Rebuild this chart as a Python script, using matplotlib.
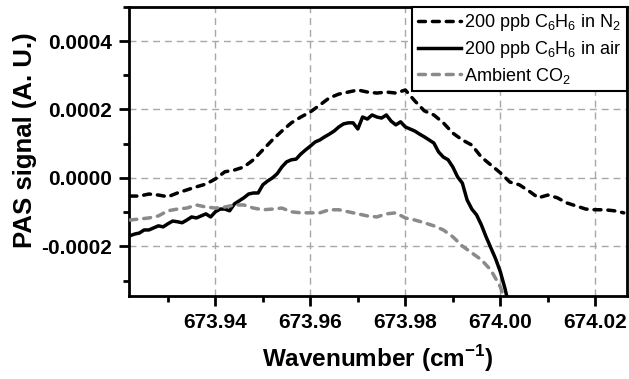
import numpy as np
import matplotlib
matplotlib.use('Agg')
import matplotlib.pyplot as plt
from matplotlib.ticker import MultipleLocator, FormatStrFormatter

plt.rcParams['font.family'] = ['Liberation Sans', 'DejaVu Sans']
plt.rcParams['mathtext.fontset'] = 'custom'
plt.rcParams['mathtext.rm'] = 'Liberation Sans'
plt.rcParams['mathtext.bf'] = 'Liberation Sans:bold'

# ---- data (signal in units of 1e-4 A.U.) ----
x0 = 673.922

# 200 ppb C6H6 in N2, step 0.002 cm-1
n2_signal = [-0.53, -0.53, -0.47, -0.50, -0.55, -0.44, -0.35, -0.26, -0.18, -0.03,
             0.18, 0.23, 0.32, 0.53, 0.82, 1.11, 1.37, 1.61, 1.78, 1.93,
             2.13, 2.34, 2.45, 2.51, 2.57, 2.51, 2.48, 2.51, 2.48, 2.57,
             2.25, 1.96, 1.84, 1.61, 1.31, 1.11, 0.96, 0.61, 0.38, 0.15,
             -0.12, -0.20, -0.38, -0.58, -0.50, -0.58, -0.73, -0.82, -0.91, -0.93,
             -0.93, -0.96, -1.02]

# 200 ppb C6H6 in air, step 0.001 cm-1
air_signal = [-1.69, -1.64, -1.61, -1.52, -1.52, -1.46, -1.40, -1.43, -1.34, -1.26,
              -1.28, -1.31, -1.23, -1.14, -1.17, -1.11, -1.05, -1.14, -0.99, -0.91,
              -0.91, -0.96, -0.76, -0.67, -0.58, -0.47, -0.44, -0.44, -0.20, -0.09,
              0.00, 0.12, 0.32, 0.47, 0.53, 0.55, 0.70, 0.82, 0.93, 1.05,
              1.11, 1.20, 1.28, 1.37, 1.49, 1.58, 1.61, 1.61, 1.43, 1.78,
              1.72, 1.84, 1.78, 1.75, 1.84, 1.66, 1.55, 1.64, 1.49, 1.43,
              1.37, 1.28, 1.20, 1.11, 1.02, 0.76, 0.61, 0.53, 0.32, 0.03,
              -0.15, -0.64, -0.91, -1.08, -1.37, -1.72, -2.04, -2.36, -2.74, -3.24,
              -3.85]

# ambient CO2, step 0.002 cm-1
co2_signal = [-1.23, -1.20, -1.17, -1.11, -0.96, -0.91, -0.88, -0.79, -0.85, -0.88,
              -0.85, -0.79, -0.79, -0.88, -0.93, -0.91, -0.88, -0.99, -1.02, -1.02,
              -1.02, -0.93, -0.93, -0.99, -1.05, -1.11, -1.14, -1.05, -1.02, -1.17,
              -1.23, -1.31, -1.40, -1.52, -1.72, -1.99, -2.19, -2.39, -2.69, -3.18,
              -4.00]

n2_x = x0 + 0.002 * np.arange(len(n2_signal))
air_x = x0 + 0.001 * np.arange(len(air_signal))
co2_x = x0 + 0.002 * np.arange(len(co2_signal))

xticks = [673.94, 673.96, 673.98, 674.00, 674.02]
yticks = [-0.0002, 0.0, 0.0002, 0.0004]

fig = plt.figure(figsize=(6.29, 3.79), dpi=100)
ax = fig.add_axes([0.205, 0.219, 0.792, 0.763])

dash = (0, (2.0, 2.0))
ax.plot(n2_x, np.array(n2_signal) * 1e-4, color='black', lw=2.5, ls=dash,
        dash_capstyle='round', label=r'200 ppb C$_6$H$_6$ in N$_2$', zorder=3)
ax.plot(air_x, np.array(air_signal) * 1e-4, color='black', lw=2.5,
        label=r'200 ppb C$_6$H$_6$ in air', zorder=3)
ax.plot(co2_x, np.array(co2_signal) * 1e-4, color='#8a8a8a', lw=2.5, ls=dash,
        dash_capstyle='round', label=r'Ambient CO$_2$', zorder=3)

ax.set_xlim(673.9218, 674.0267)
ax.set_ylim(-0.000345, 0.0005)
ax.set_xticks(xticks)
ax.set_yticks(yticks)
ax.xaxis.set_minor_locator(MultipleLocator(0.01))
ax.yaxis.set_minor_locator(MultipleLocator(0.0001))
ax.xaxis.set_major_formatter(FormatStrFormatter('%.2f'))
ax.yaxis.set_major_formatter(FormatStrFormatter('%.4f'))

ax.grid(True, which='major', color='#a8a8a8', ls=(0, (5, 3.5)), lw=1.0)
ax.set_axisbelow(True)

for s in ax.spines.values():
    s.set_linewidth(2.0)
ax.tick_params(which='major', direction='out', length=7, width=2, labelsize=15, pad=5)
ax.tick_params(which='minor', direction='out', length=4, width=2)
for lab in ax.get_xticklabels() + ax.get_yticklabels():
    lab.set_fontweight('bold')

ax.set_xlabel(r'Wavenumber (cm$^{\mathbf{-1}}$)', fontsize=17.5, fontweight='bold', labelpad=8)
ax.set_ylabel('PAS signal (A. U.)', fontsize=18.5, fontweight='bold')
ax.yaxis.set_label_coords(-0.185, 0.54)

leg = ax.legend(loc='upper right', bbox_to_anchor=(1.0, 1.0), borderaxespad=0,
                fontsize=13, frameon=True, fancybox=False, edgecolor='black',
                handlelength=2.4, handletextpad=0.2, borderpad=0.3,
                labelspacing=0.32)
leg.get_frame().set_linewidth(1.5)
leg.get_frame().set_alpha(1)

plt.savefig('out.png', dpi=100)
